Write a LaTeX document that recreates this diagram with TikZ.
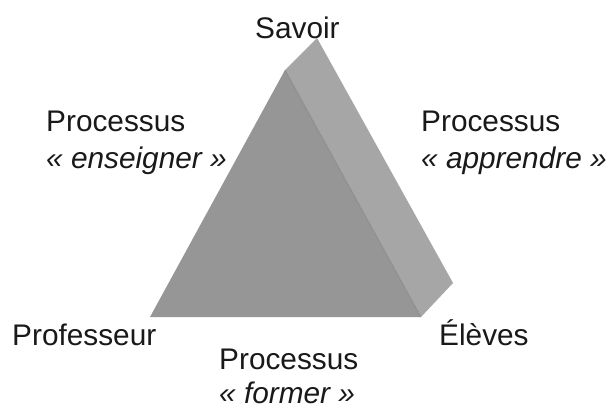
\documentclass[tikz,border=0pt]{standalone}
\usepackage{fontspec}
\setmainfont{Liberation Sans}
\begin{document}
\begin{tikzpicture}[x=1pt,y=-1pt,
  lbl/.style={inner sep=0pt,anchor=base west,text=black!90,font=\fontsize{29.8}{36}\selectfont},
  ilbl/.style={lbl,font=\fontsize{29.8}{36}\selectfont\itshape}]
\useasboundingbox (0,0) rectangle (608,406);
\fill[white] (0,0) rectangle (608,406);
\definecolor{frontc}{HTML}{969696}
\definecolor{sidec}{HTML}{A6A6A6}
\fill[sidec] (285,70) -- (317,38) -- (453,283) -- (421,317) -- cycle;
\fill[frontc] (150,317) -- (285,70) -- (421,317) -- cycle;
\draw[black!45!sidec,draw opacity=0.25,line width=1pt] (285,70) -- (421,317);
\node[lbl] (savoir) at (255,39) {Savoir};
\node[lbl] (pe) at (46,132) {Processus};
\node[ilbl] (ie) at (46,169) {« enseigner »};
\node[lbl] (pa) at (421,132) {Processus};
\node[ilbl] (ia) at (421,169) {« apprendre »};
\node[lbl] (prof) at (12,345) {Professeur};
\node[lbl] (el) at (439,345) {Élèves};
\node[lbl] (pf) at (219,369) {Processus};
\node[ilbl] (if) at (219,403) {« former »};
\end{tikzpicture}
\end{document}
